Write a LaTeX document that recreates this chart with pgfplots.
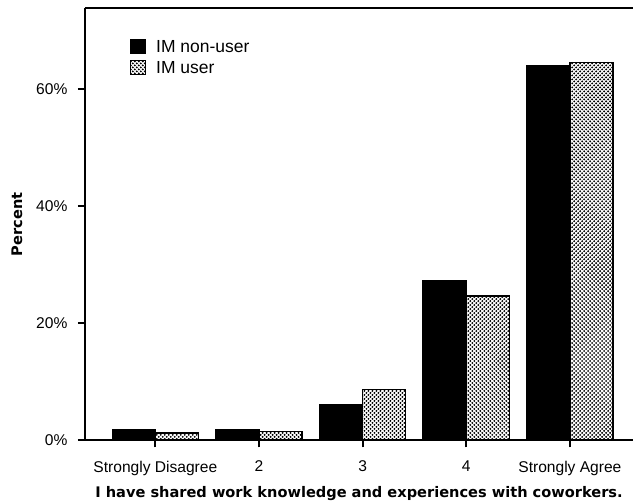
\documentclass[border=0pt]{standalone}
\usepackage{pgfplots}
\pgfplotsset{compat=1.18}
\usetikzlibrary{patterns}
\usepackage{fontspec}
\setmainfont{Liberation Sans}
\newfontfamily\labfont{DejaVu Sans}
\pgfdeclarepatternformonly{mydots}{\pgfqpoint{-1pt}{-1pt}}{\pgfqpoint{5pt}{5pt}}{\pgfqpoint{4pt}{4pt}}{
  \pgfpathcircle{\pgfqpoint{1pt}{1pt}}{1.05pt}
  \pgfpathcircle{\pgfqpoint{3pt}{3pt}}{1.05pt}
  \pgfusepath{fill}
}
\begin{document}
\begin{tikzpicture}
\begin{axis}[
  scale only axis, width=549pt, height=433pt,
  ymin=0, ymax=73.8, xmin=-0.68, xmax=4.61,
  axis x line=box, axis y line=left,
  axis line style={-, line width=1.8pt},
  tick pos=left, tick align=outside, major tick length=7pt,
  tick style={line width=1.8pt, black},
  ytick={0,20,40,60},
  yticklabel={\pgfmathprintnumber{\tick}\%},
  xtick={0,1,2,3,4},
  xticklabels={Strongly Disagree,2,3,4,Strongly Agree},
  ticklabel style={font=\fontsize{15.6}{18}\selectfont},
  /pgf/number format/assume math mode=true,
  xticklabel style={yshift=-10pt},
  yticklabel style={xshift=-7pt},
  ylabel={\labfont\bfseries Percent},
  xlabel={\labfont\bfseries I have shared work knowledge and experiences with coworkers.},
  label style={font=\fontsize{14.6}{17}\selectfont},
  ylabel style={at={(axis description cs:-0.124,0.5)}, anchor=center},
  xlabel style={yshift=-4pt},
  ybar, bar width=0.415,
  legend style={draw=none, fill=none, at={(0.076,0.935)}, anchor=north west,
    font=\fontsize{17.5}{21}\selectfont, row sep=4pt},
  legend cell align=left,
  legend image code/.code={\path[draw=none, fill=none, pattern=none] (0pt,0pt) -- (24pt,0pt);\draw[#1, line width=1pt] (0pt,-6pt) rectangle (15pt,8pt);},
]
\addplot[fill=black, draw=black, line width=1.5pt, bar shift=-0.2075]
  coordinates {(0,1.8) (1,1.8) (2,6.0) (3,27.2) (4,63.9)};
\addplot[pattern=mydots, draw=black, line width=1.5pt, bar shift=0.2075]
  coordinates {(0,1.3) (1,1.5) (2,8.7) (3,24.6) (4,64.5)};
\legend{IM non-user, IM user}
\end{axis}
\path (current axis.north east) ++(0,8pt);
\path (current axis.west) ++(-85pt,0);
\end{tikzpicture}
\end{document}
